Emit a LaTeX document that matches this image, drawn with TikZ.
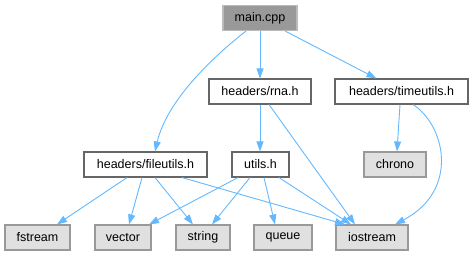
\documentclass[tikz,border=0pt]{standalone}
\usepackage{fontspec}
\setmainfont{Liberation Sans}
\usepackage{tikz}
\usetikzlibrary{
  arrows.meta,
  positioning,
}
\definecolor{edgeBlue}{HTML}{63B8FF}
\definecolor{rootFill}{HTML}{999999}
\definecolor{rootLine}{HTML}{BBBBBB}
\definecolor{fileLine}{HTML}{666666}
\definecolor{sysFill}{HTML}{E0E0E0}
\definecolor{sysLine}{HTML}{999999}
\tikzset{
  filebox/.style={
    rectangle, draw=fileLine, line width=1.1pt, fill=white,
    minimum height=25pt, inner sep=0pt, text=black,
    font=\fontsize{12.5}{14}\selectfont,
  },
  rootbox/.style={filebox, fill=rootFill, draw=rootLine},
  sysbox/.style={filebox, fill=sysFill, draw=sysLine},
  incArrow/.style={
    -{Triangle[length=10pt,width=7pt]}, line width=0.9pt, draw=edgeBlue,
  },
}

\begin{document}
\begin{tikzpicture}[x=1pt, y=-1pt]
\useasboundingbox (0,0) rectangle (473,256);

% project files
\node[rootbox, minimum width=74pt]  (main)      at (260,18)    {main.cpp};
\node[filebox, minimum width=102pt] (rna)       at (260,91.5)  {headers/rna.h};
\node[filebox, minimum width=133pt] (timeutils) at (401.5,91.5) {headers/timeutils.h};
\node[filebox, minimum width=123pt] (fileutils) at (145.5,164.5) {headers/fileutils.h};
\node[filebox, minimum width=57pt]  (utils)     at (260.5,164.5) {utils.h};

% standard headers
\node[sysbox, minimum width=62pt] (chrono)   at (395,164.5)  {chrono};
\node[sysbox, minimum width=65pt] (fstream)  at (37.5,237.5) {fstream};
\node[sysbox, minimum width=56pt] (vector)   at (123,237.5)  {vector};
\node[sysbox, minimum width=54pt] (string)   at (203,237.5)  {string};
\node[sysbox, minimum width=58pt] (queue)    at (283,237.5)  {queue};
\node[sysbox, minimum width=72pt] (iostream) at (372,237.5)  {iostream};

% includes of main.cpp
\draw[incArrow] ([xshift=-14pt]main.south)
  .. controls (214,56) and (167,100) .. ([xshift=9.5pt]fileutils.north);
\draw[incArrow] (main.south) -- (rna.north);
\draw[incArrow] (main) -- (timeutils);

% includes of rna.h and timeutils.h
\draw[incArrow] (rna.south) -- (rna.south |- utils.north);
\draw[incArrow] ([xshift=9pt]rna.south) -- ([xshift=-17pt]iostream.north);
\draw[incArrow] ([xshift=-1.5pt]timeutils.south) -- ([xshift=2pt]chrono.north);
\draw[incArrow] ([xshift=11.5pt]timeutils.south)
  .. controls (445,125) and (460,190) .. ([xshift=23pt]iostream.north);

% includes of fileutils.h
\draw[incArrow] ([xshift=-18.5pt]fileutils.south) -- ([xshift=19.5pt]fstream.north);
\draw[incArrow] ([xshift=-3.5pt]fileutils.south) -- ([xshift=6pt]vector.north);
\draw[incArrow] ([xshift=9.5pt]fileutils.south) -- ([xshift=-10pt]string.north);
\draw[incArrow] ([xshift=36.5pt]fileutils.south) -- ([xshift=-27pt]iostream.north);

% includes of utils.h
\draw[incArrow] ([xshift=-22.5pt]utils.south) -- ([xshift=26pt]vector.north);
\draw[incArrow] ([xshift=-10.5pt]utils.south) -- ([xshift=9pt]string.north);
\draw[incArrow] ([xshift=3.5pt]utils.south) -- ([xshift=-8pt]queue.north);
\draw[incArrow] ([xshift=18.5pt]utils.south) -- ([xshift=-21pt]iostream.north);
\end{tikzpicture}
\end{document}
